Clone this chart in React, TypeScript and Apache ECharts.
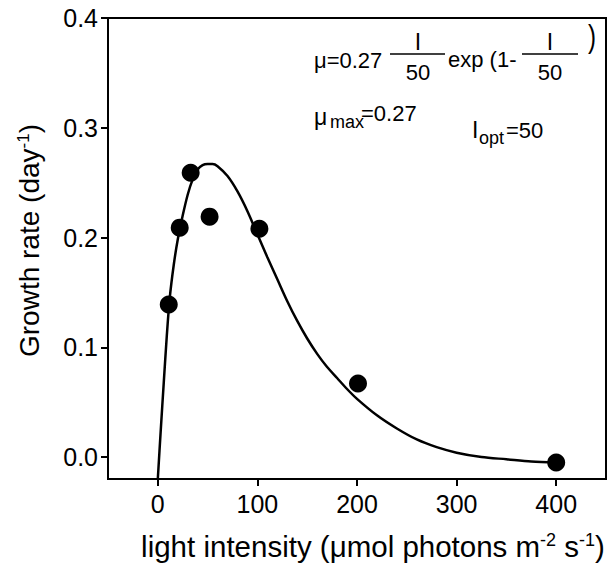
import React, { useEffect, useRef } from "react";
import * as echarts from "echarts";

// measured points
const lightIntensity = [11, 22, 33, 52, 102, 201, 400];
const growthRate = [0.139, 0.209, 0.259, 0.219, 0.208, 0.067, -0.005];

// fitted curve
const fitI = [0, 3, 6, 9, 12, 16, 20, 25, 30, 35, 40, 45, 50, 55, 60, 70, 80, 90, 100, 110, 120, 130, 140, 150, 160, 170, 180, 190, 200, 220, 240, 260, 280, 300, 325, 350, 375, 400];
const fitMu = [-0.02, 0.025, 0.068, 0.11, 0.145, 0.175, 0.198, 0.22, 0.239, 0.253, 0.262, 0.266, 0.267, 0.267, 0.265, 0.256, 0.242, 0.224, 0.203, 0.182, 0.162, 0.142, 0.124, 0.108, 0.094, 0.082, 0.072, 0.062, 0.053, 0.038, 0.026, 0.016, 0.009, 0.004, 0.0, -0.002, -0.004, -0.005];

const xTicks = [0, 100, 200, 300, 400];
const yTicks = [0, 0.1, 0.2, 0.3, 0.4];

const FONT = "'Liberation Sans', Arial, Helvetica, sans-serif";

function txt(text: string, x: number, y: number, size: number, align = "left", valign = "middle", extra: any = {}) {
  return {
    type: "text",
    x,
    y,
    ...extra,
    style: {
      text,
      fill: "#000",
      fontSize: size,
      fontFamily: FONT,
      align,
      verticalAlign: valign,
      textAlign: align,
      textVerticalAlign: valign,
    },
  };
}

function bar(x1: number, x2: number, y: number) {
  return {
    type: "line",
    shape: { x1, y1: y, x2, y2: y },
    style: { stroke: "#000", lineWidth: 1.5 },
  };
}

export default function App() {
  const ref = useRef<HTMLDivElement>(null);
  useEffect(() => {
    if (!ref.current) return;
    const chart = echarts.init(ref.current, null, { renderer: "svg" });
    const option: any = {
      animation: false,
      backgroundColor: "#fff",
      grid: {
        left: 108,
        right: 7,
        top: 18,
        bottom: 89,
        show: true,
        borderColor: "#000",
        borderWidth: 2,
        containLabel: false,
      },
      xAxis: {
        type: "value",
        min: -50,
        max: 450,
        name: "light intensity (μmol photons m{sup|-2} s{sup|-1})",
        nameLocation: "middle",
        nameGap: 52,
        nameTextStyle: {
          color: "#000",
          fontSize: 29.5,
          fontFamily: FONT,
          padding: [0, 0, 0, 32],
          rich: { sup: { fontSize: 18, fontFamily: FONT, color: "#000", verticalAlign: "top", padding: [0, 0, 12, 0] } },
        },
        axisLine: { show: true, onZero: false, lineStyle: { color: "#000", width: 2 } },
        axisTick: { show: true, inside: false, length: 7, lineStyle: { color: "#000", width: 2 }, customValues: xTicks },
        axisLabel: { color: "#000", fontSize: 25, fontFamily: FONT, margin: 12, customValues: xTicks },
        splitLine: { show: false },
      },
      yAxis: {
        type: "value",
        min: -0.02,
        max: 0.4,
        name: "Growth rate (day{sup|-1})",
        nameLocation: "middle",
        nameGap: 64,
        nameRotate: 90,
        nameTextStyle: {
          color: "#000",
          fontSize: 28,
          fontFamily: FONT,
          padding: [0, 0, 0, 16],
          rich: { sup: { fontSize: 17, fontFamily: FONT, color: "#000", padding: [0, 0, 12, 0] } },
        },
        axisLine: { show: true, onZero: false, lineStyle: { color: "#000", width: 2 } },
        axisTick: { show: true, inside: false, length: 7, lineStyle: { color: "#000", width: 2 }, customValues: yTicks },
        axisLabel: {
          color: "#000",
          fontSize: 25,
          fontFamily: FONT,
          margin: 10,
          customValues: yTicks,
          formatter: (v: number) => v.toFixed(1),
        },
        splitLine: { show: false },
      },
      series: [
        {
          type: "line",
          data: fitI.map((x, i) => [x, fitMu[i]]),
          showSymbol: false,
          smooth: 0.3,
          lineStyle: { color: "#000", width: 2.5 },
          z: 2,
        },
        {
          type: "scatter",
          data: lightIntensity.map((x, i) => [x, growthRate[i]]),
          symbol: "circle",
          symbolSize: 18,
          itemStyle: { color: "#000", opacity: 1 },
          z: 3,
        },
      ],
      graphic: [
        txt("μ=0.27", 314, 60, 22),
        bar(390, 445, 54),
        txt("I", 418, 42, 23, "center"),
        txt("50", 418, 72, 22, "center"),
        txt("exp (1-", 448, 59, 22),
        bar(522, 578, 54),
        txt("I", 550, 42, 23, "center"),
        txt("50", 550, 72, 22, "center"),
        txt(")", 588, 52, 24, "left", "middle", { scaleY: 1.3, originY: 52, originX: 588 }),
        txt("μ", 314, 128, 23, "left", "bottom"),
        txt("max", 330, 131, 18, "left", "bottom"),
        txt("=0.27", 361, 124, 22, "left", "bottom"),
        txt("I", 472, 141, 23, "left", "bottom"),
        txt("opt", 479, 147, 18, "left", "bottom"),
        txt("=50", 506, 141, 22, "left", "bottom"),
      ],
    };
    chart.setOption(option);
    return () => chart.dispose();
  }, []);
  return (
    <div
      ref={ref}
      style={{ position: "fixed", left: 0, top: 0, width: 613, height: 568, background: "#fff" }}
    />
  );
}
